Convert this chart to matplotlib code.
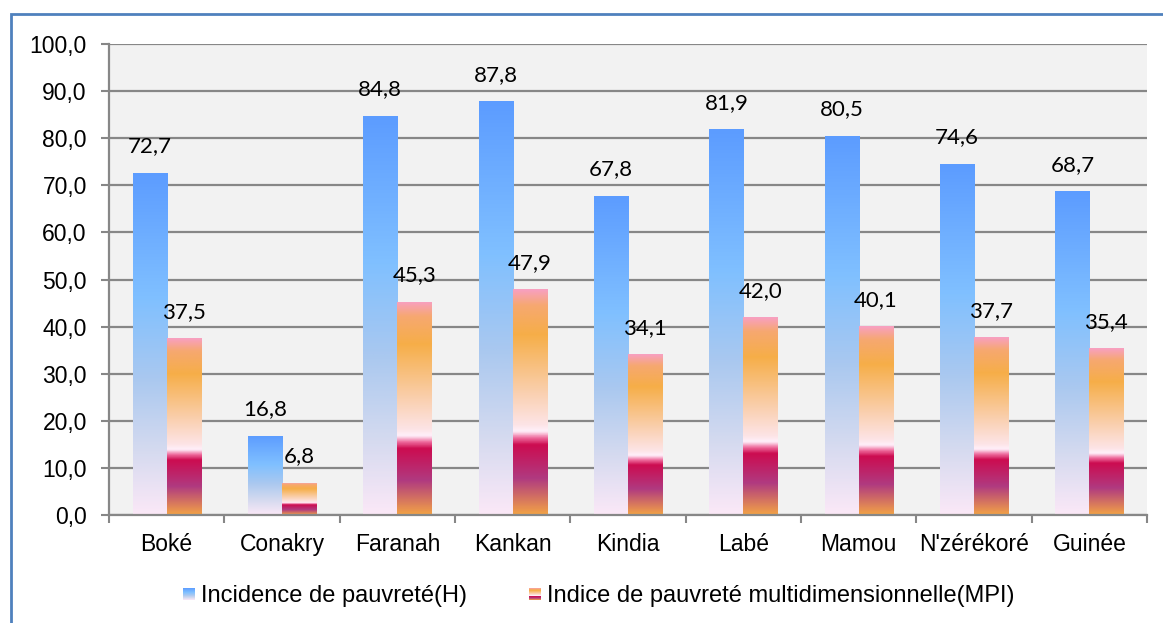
import numpy as np
import matplotlib
matplotlib.use("Agg")
import matplotlib.pyplot as plt
from matplotlib.colors import LinearSegmentedColormap
from matplotlib.patches import Rectangle
from matplotlib.legend_handler import HandlerBase

# Data
regions = ["Boké", "Conakry", "Faranah", "Kankan", "Kindia", "Labé", "Mamou", "N'zérékoré", "Guinée"]
incidence_h = [72.7, 16.8, 84.8, 87.8, 67.8, 81.9, 80.5, 74.6, 68.7]
indice_mpi = [37.5, 6.8, 45.3, 47.9, 34.1, 42.0, 40.1, 37.7, 35.4]
yticks = np.arange(0, 101, 10)
series_labels = ["Incidence de pauvreté(H)", "Indice de pauvreté multidimensionnelle(MPI)"]

# Gradients, position measured from the top of the bar
blue_cmap = LinearSegmentedColormap.from_list("blue", [
    (0.0, "#5c9cff"), (0.37, "#80c0ff"), (0.6, "#a9c8f0"),
    (0.8, "#d2d9ef"), (1.0, "#fbe8f7")])
mpi_cmap = LinearSegmentedColormap.from_list("mpi", [
    (0.0, "#f8a0c0"), (0.07, "#f6a870"), (0.2, "#f6ae48"), (0.46, "#fad0b0"),
    (0.6, "#fde4e6"), (0.63, "#fff0fa"), (0.66, "#ee6a9c"), (0.69, "#cc0c50"),
    (0.84, "#b03a80"), (1.0, "#f2a246")])

label_font = "Lato"
axis_font = "Liberation Sans"


def gradient_bars(ax, bars, cmap):
    grad = np.linspace(0, 1, 400)[:, None]
    for bar in bars:
        x0 = bar.get_x()
        h = bar.get_height()
        im = ax.imshow(grad, cmap=cmap, aspect="auto", origin="upper",
                       extent=(x0, x0 + bar.get_width(), 0, h), zorder=2,
                       interpolation="bilinear")
        im.set_clip_path(bar)


class GradientHandler(HandlerBase):
    def __init__(self, cmap):
        super().__init__()
        self.cmap = cmap

    def create_artists(self, legend, orig_handle, xdescent, ydescent,
                       width, height, fontsize, trans):
        n = 12
        side = min(width, height * 0.75)
        x0 = -xdescent + (width - side) / 2
        y0 = -ydescent + (height - side) / 2
        artists = []
        for k in range(n):
            c = self.cmap((k + 0.5) / n)
            r = Rectangle((x0, y0 + side * (n - k - 1) / n), side, side / n,
                          facecolor=c, edgecolor="none", transform=trans)
            artists.append(r)
        return artists


fig = plt.figure(figsize=(11.63, 6.23), dpi=100)
fig.patch.set_facecolor("white")
ax = fig.add_axes([109 / 1163, 1 - 515 / 623, (1147 - 109) / 1163, (515 - 44) / 623])
ax.set_facecolor("#f2f2f2")

x = np.arange(len(regions))
w = 0.295
bars_h = ax.bar(x - w / 2, incidence_h, w, facecolor="none", edgecolor="none", zorder=2)
bars_m = ax.bar(x + w / 2, indice_mpi, w, facecolor="none", edgecolor="none", zorder=2)
gradient_bars(ax, bars_h, blue_cmap)
gradient_bars(ax, bars_m, mpi_cmap)

for xi, v in zip(x - w / 2, incidence_h):
    ax.annotate(f"{v:.1f}".replace(".", ","), (xi, v), xytext=(0, 19),
                textcoords="offset points", ha="center", va="center",
                fontsize=16, family=label_font, color="black", zorder=4)
for xi, v in zip(x + w / 2, indice_mpi):
    ax.annotate(f"{v:.1f}".replace(".", ","), (xi, v), xytext=(0, 19),
                textcoords="offset points", ha="center", va="center",
                fontsize=16, family=label_font, color="black", zorder=4)

ax.set_xlim(-0.5, len(regions) - 0.5)
ax.set_ylim(0, 100)

# Axes styling
ax.set_yticks(yticks)
ax.set_yticklabels([f"{t:.1f}".replace(".", ",") for t in yticks],
                   fontsize=16.5, family=axis_font)
ax.yaxis.grid(True, color="#878787", linewidth=1.6, zorder=1)
ax.set_axisbelow(True)
ax.tick_params(axis="y", length=6, width=1.5, color="#878787", pad=10)

ax.set_xticks(x)
ax.set_xticklabels(regions, fontsize=16.5, family=axis_font)
ax.set_xticks(np.arange(-0.5, len(regions)), minor=True)
ax.tick_params(axis="x", which="major", length=0, pad=13)
ax.tick_params(axis="x", which="minor", length=6, width=1.5, color="#878787")

for side in ["top", "right"]:
    ax.spines[side].set_visible(False)
for side in ["left", "bottom"]:
    ax.spines[side].set_color("#878787")
    ax.spines[side].set_linewidth(1.6)

# Legend
h1 = Rectangle((0, 0), 1, 1)
h2 = Rectangle((0, 0), 1, 1)
fig.legend([h1, h2], series_labels, loc="center", ncol=2,
           bbox_to_anchor=(598 / 1163, 1 - 596 / 623), frameon=False,
           handler_map={h1: GradientHandler(blue_cmap), h2: GradientHandler(mpi_cmap)},
           prop={"family": axis_font, "size": 17}, handlelength=0.6,
           handletextpad=0.2, columnspacing=2.6)

# Outer border
fig.patches.append(Rectangle((11 / 1163, -0.05), 1.1, (1 - 14 / 623) + 0.05,
                             transform=fig.transFigure, fill=False,
                             edgecolor="#4f81bd", linewidth=2, zorder=0))

fig.savefig("out.png", dpi=100)
